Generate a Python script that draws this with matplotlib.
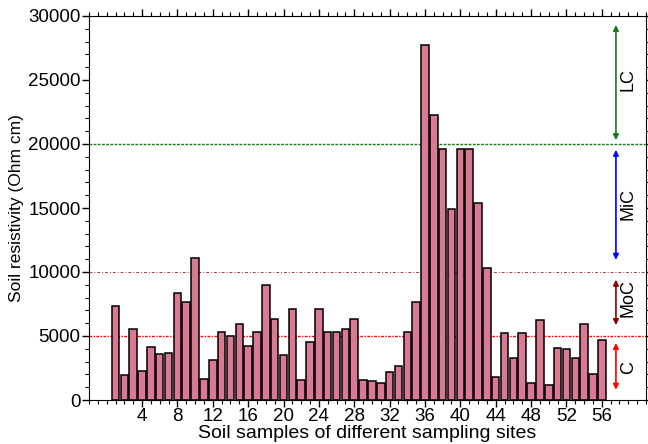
import matplotlib
matplotlib.use("Agg")
import matplotlib.pyplot as plt
from matplotlib.ticker import MultipleLocator

plt.rcParams['font.family'] = ['Liberation Sans', 'DejaVu Sans']

samples = list(range(1, 57))
resistivity = [7350, 1930, 5550, 2290, 4140, 3620, 3700, 8330, 7660, 11090,
               1670, 3150, 5310, 5000, 5900, 4180, 5310, 8960, 6300, 3490,
               7110, 1560, 4530, 7110, 5310, 5310, 5570, 6300, 1560, 1460,
               1350, 2210, 2660, 5320, 7680, 27760, 22240, 19640, 14950, 19640,
               19640, 15420, 10290, 1800, 5200, 3310, 5200, 1300, 6280, 1170,
               4040, 3960, 3310, 5910, 2030, 4660]

xticks = list(range(4, 57, 4))
thresholds = [5000, 10000, 20000]
classes = ["C", "MoC", "MiC", "LC"]
class_ranges = [(800, 4450), (5850, 9400), (10950, 19550), (20300, 29300)]
class_text_y = [2500, 8000, 15300, 25000]
class_colors = ["#ff0000", "#8b0000", "#0000ff", "#1a7a1a"]

fig = plt.figure(figsize=(6.48, 4.44), dpi=100)
ax = fig.add_axes([89/648, 44/444, (646-89)/648, (400-16)/444])

ax.bar(samples, resistivity, width=0.85, color="#d87a92",
       edgecolor="black", linewidth=1.1, zorder=2)

line_styles = [
    dict(color="#ff0000", linestyle=(0, (2, 1, 1, 1)), linewidth=1.0),
    dict(color="#a04040", linestyle=(0, (3, 2, 1, 2)), linewidth=0.7),
    dict(color="#1a7a1a", linestyle=(0, (2, 1)), linewidth=1.0),
]
for yv, st in zip(thresholds, line_styles):
    ax.axhline(yv, zorder=1, **st)

arrow_x = 57.6
text_x = 59.0
for name, (lo, hi), ty, col in zip(classes, class_ranges, class_text_y, class_colors):
    ax.annotate("", xy=(arrow_x, hi), xytext=(arrow_x, lo),
                arrowprops=dict(arrowstyle="<|-|>", color=col, lw=1.2,
                                mutation_scale=8, shrinkA=0, shrinkB=0))
    ax.text(text_x, ty, name, rotation=90, ha="center", va="center",
            fontsize=13, color="black")

ax.set_xlim(-2, 61)
ax.set_ylim(0, 30000)
ax.set_xticks(xticks)
ax.xaxis.set_minor_locator(MultipleLocator(1))
ax.yaxis.set_major_locator(MultipleLocator(5000))
ax.yaxis.set_minor_locator(MultipleLocator(1000))
ax.tick_params(axis="both", which="major", labelsize=13.5, direction="out",
               length=5, top=True, right=True, width=1)
ax.tick_params(axis="both", which="minor", direction="out", length=3,
               top=True, right=True, width=0.8)
ax.tick_params(axis="x", which="major", pad=1)
ax.tick_params(axis="y", which="major", pad=1)

ax.set_xlabel("Soil samples of different sampling sites", fontsize=14, labelpad=0)
ax.set_ylabel("Soil resistivity (Ohm cm)", fontsize=12.5, labelpad=3)

fig.savefig("out.png", dpi=100)
